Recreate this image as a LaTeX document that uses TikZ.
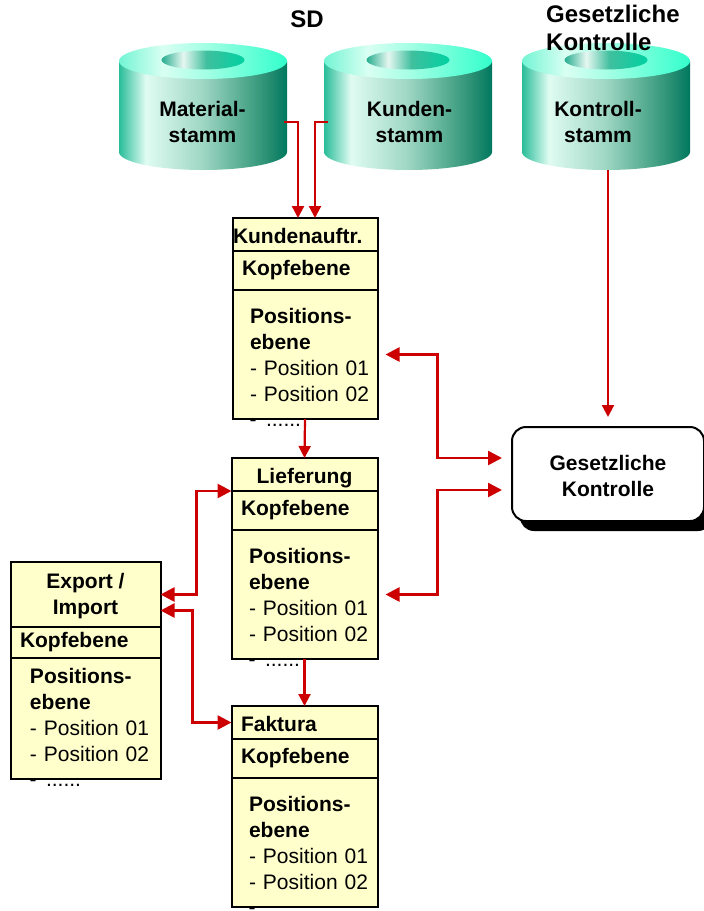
\documentclass[tikz,border=0pt]{standalone}
\usepackage{fontspec}
\setmainfont{Liberation Sans}
\usetikzlibrary{positioning,arrows.meta,fit,shadows}
\definecolor{docyellow}{HTML}{FFFFCC}
\definecolor{flowred}{HTML}{CC0000}
\definecolor{sideA}{HTML}{29BD99}
\definecolor{sideB}{HTML}{E0FCF2}
\definecolor{sideC}{HTML}{9ED6C4}
\definecolor{sideD}{HTML}{54AB8F}
\definecolor{sideE}{HTML}{248C70}
\definecolor{sideF}{HTML}{00785E}
\definecolor{topA}{HTML}{73F5D4}
\definecolor{topB}{HTML}{D9FFF2}
\definecolor{topC}{HTML}{9EFFE3}
\definecolor{topD}{HTML}{33FFCC}
\definecolor{holeA}{HTML}{26AD8F}
\definecolor{holeB}{HTML}{E6F7F0}
\definecolor{holeC}{HTML}{40BF9E}
\definecolor{holeD}{HTML}{00D1A1}
\pgfdeclarehorizontalshading{disk side}{100bp}{
  color(0bp)=(sideA);
  color(25bp)=(sideA);
  color(33bp)=(sideB);
  color(50bp)=(sideC);
  color(62bp)=(sideD);
  color(70bp)=(sideE);
  color(75bp)=(sideF);
  color(100bp)=(sideF)
}
\pgfdeclarehorizontalshading{disk top}{100bp}{
  color(0bp)=(topA);
  color(25bp)=(topA);
  color(38bp)=(topB);
  color(52bp)=(topC);
  color(75bp)=(topD);
  color(100bp)=(topD)
}
\pgfdeclarehorizontalshading{disk hole}{100bp}{
  color(0bp)=(holeA);
  color(25bp)=(holeA);
  color(38bp)=(holeB);
  color(52bp)=(holeC);
  color(75bp)=(holeD);
  color(100bp)=(holeD)
}
\newcommand{\posliste}{\textbf{Positions-}\\\textbf{ebene}\\\mbox{- Position 01}\\\mbox{- Position 02}}
\tikzset{
  x=1pt, y=-1pt,
  doc row/.style={
    fill=docyellow,
    draw=black,
    line width=1pt,
    minimum width={#1},
    inner xsep=0pt,
    inner ysep=0pt,
  },
  titel row/.style={
    doc row=#1,
    font=\bfseries,
    align=center,
  },
  kopf row/.style={
    doc row=#1,
    font=\bfseries,
    inner xsep=9pt,
    text width={#1-18pt},
    align=left,
  },
  pos row/.style={
    doc row=#1,
    inner xsep=17pt,
    text width={#1-34pt},
    align=left,
  },
  doc frame/.style={
    draw=black,
    line width=2pt,
    inner sep=0pt,
  },
  stamm label/.style={
    font=\bfseries,
    align=center,
    minimum width=163pt,
    minimum height=96pt,
    inner sep=0pt,
  },
  haupt titel/.style={
    font=\fontsize{24}{28}\selectfont\bfseries,
    align=left,
    inner sep=0pt,
  },
  kontroll box/.style={
    draw=black,
    fill=white,
    line width=2pt,
    rounded corners=14pt,
    minimum width=192pt,
    minimum height=94pt,
    text height=45pt,
    font=\bfseries,
    align=center,
    drop shadow={shadow xshift=8pt,shadow yshift=-10pt,fill=black,opacity=1},
  },
  annotation/.style={
    anchor=base west,
    inner sep=0pt,
  },
  flow/.style={
    draw=flowred,
    line width=2.2pt,
    -{Triangle[length=12pt,width=12pt]},
  },
  flow both/.style={
    draw=flowred,
    line width=2.6pt,
    {Triangle[length=14pt,width=14pt]}-{Triangle[length=14pt,width=14pt]},
  },
  stamm disk/.pic={
    \shade[shading=disk side] (-84,0) -- (-84,91) arc[start angle=180,end angle=360,x radius=84pt,y radius=18pt] -- (84,0) -- cycle;
    \shade[shading=disk top] (0,0) ellipse[x radius=84pt,y radius=18pt];
    \shade[shading=disk hole] (0,-1) ellipse[x radius=41.5pt,y radius=9.5pt];
  },
}
\begin{document}
\begin{tikzpicture}[node distance=0pt]
  \fontsize{21}{26}\selectfont
  \useasboundingbox (0,0) rectangle (704,911);

  % stammdaten
  \pic at (203,61) {stamm disk};
  \pic at (408,61) {stamm disk};
  \pic at (606,61) {stamm disk};
  \node [stamm label] (material) at (202.5,122) {Material-\\stamm};
  \node [stamm label] (kunden) at (409.5,122) {Kunden-\\stamm};
  \node [stamm label] (kontroll) at (598,122) {Kontroll-\\stamm};
  \node [haupt titel] (sd) at (307,19) {SD};
  \node [haupt titel, anchor=north west] (gesetztitel) at (546,5) {Gesetzliche\\Kontrolle};

  % belege
  \node [kopf row=144, inner xsep=0pt, text width=144pt, text height=19pt, minimum height=32] (auftrag-titel) at (305,234.5) {Kundenauftr.};
  \node [kopf row=144, minimum height=38, below=of auftrag-titel] (auftrag-kopf) {Kopfebene};
  \node [pos row=144, minimum height=128, below=of auftrag-kopf] (auftrag-pos) {\posliste};

  \node [titel row=145, text height=23pt, minimum height=32] (liefer-titel) at (304.5,474.5) {Lieferung};
  \node [kopf row=145, minimum height=38, below=of liefer-titel] (liefer-kopf) {Kopfebene};
  \node [pos row=145, minimum height=128, below=of liefer-kopf] (liefer-pos) {\posliste};

  \node [kopf row=145, text height=19pt, minimum height=32] (faktura-titel) at (304.5,722.5) {Faktura};
  \node [kopf row=145, minimum height=38, below=of faktura-titel] (faktura-kopf) {Kopfebene};
  \node [pos row=145, minimum height=128, below=of faktura-kopf] (faktura-pos) {\posliste};

  \node [titel row=149, text height=45pt, minimum height=64] (export-titel) at (85.5,594.5) {Export /\\Import};
  \node [kopf row=149, minimum height=30, below=of export-titel] (export-kopf) {Kopfebene};
  \node [pos row=149, inner xsep=19pt, text width=111pt, minimum height=120, below=of export-kopf] (export-pos) {\posliste\\[-18pt]\mbox{}};

  \foreach \blatt in {auftrag,liefer,faktura,export} {
    \node [doc frame, fit=(\blatt-titel)(\blatt-pos)] (\blatt-rahmen) {};
    \draw [line width=1.8pt] (\blatt-titel.south west) -- (\blatt-titel.south east);
  }

  \node [annotation] (auftrag-rest) at ([xshift=17pt,yshift=-7pt]auftrag-pos.south west) {- \,......};
  \node [annotation] (liefer-rest) at ([xshift=17pt,yshift=-7pt]liefer-pos.south west) {- \,......};
  \node [annotation] (faktura-rest) at ([xshift=17pt,yshift=-7pt]faktura-pos.south west) {-};
  \node [annotation] (export-rest) at ([xshift=19pt,yshift=-7pt]export-pos.south west) {- \,......};

  \node [kontroll box] (gesetz) at (608,474) {Gesetzliche\\Kontrolle};

  % pfeile
  \draw [flow] (material.east) -| ([xshift=-7pt]auftrag-titel.north);
  \draw [flow] (kunden.west) -| ([xshift=10pt]auftrag-titel.north);
  \draw [flow, shorten >=9pt] (gesetz.north |- kontroll.south) -- (gesetz.north);
  \draw [flow] (auftrag-pos.south) -- (liefer-titel.north);
  \draw [flow] (liefer-pos.south) -- (faktura-titel.north);
  \draw [flow both, shorten <=8pt, shorten >=9pt] (auftrag-pos.east) -- ++(60,0) |- ([yshift=16pt]gesetz.west);
  \draw [flow both, shorten <=8pt, shorten >=9pt] (liefer-pos.east) -- ++(60,0) |- ([yshift=-16pt]gesetz.west);
  \draw [flow both] (export-titel.east) -- ++(36,0) |- (liefer-kopf.north west);
  \draw [flow both] ([yshift=-16pt]export-titel.east) -- ++(32,0) |- (faktura-titel.west);
\end{tikzpicture}
\end{document}
